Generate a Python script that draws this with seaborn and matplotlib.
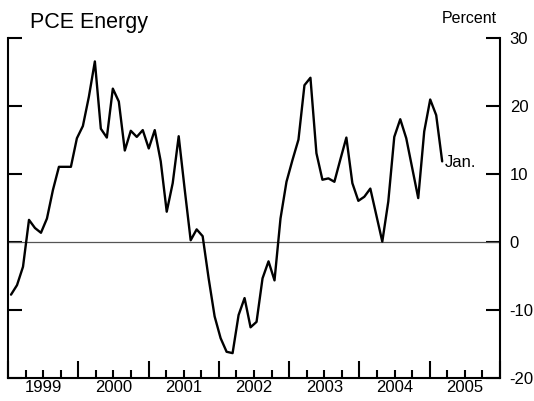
import numpy as np
import pandas as pd
import seaborn as sns
import matplotlib
matplotlib.use('Agg')
import matplotlib.pyplot as plt
from matplotlib.ticker import FixedLocator, FixedFormatter

# monthly readings, Jan 1999 .. Jan 2005 (percent)
energy = [-7.7, -6.3, -3.6, 3.3, 2.1, 1.4, 3.5, 7.7, 11.1, 11.1,
          11.1, 15.3, 17.1, 21.4, 26.6, 16.7, 15.4, 22.6, 20.7, 13.5,
          16.4, 15.5, 16.5, 13.8, 16.5, 11.9, 4.5, 8.7, 15.6, 7.8,
          0.3, 1.9, 0.9, -5.3, -10.9, -14.1, -16.1, -16.3, -10.7, -8.2,
          -12.5, -11.7, -5.3, -2.8, -5.6, 3.5, 8.9, 12.1, 15.1, 23.1,
          24.2, 13.1, 9.2, 9.4, 8.9, 12.2, 15.4, 8.7, 6.1, 6.7,
          7.9, 4.0, 0.1, 6.0, 15.5, 18.1, 15.3, 10.9, 6.5, 16.3,
          21.0, 18.7, 11.9]
years = [1999, 2000, 2001, 2002, 2003, 2004, 2005]
yticks = [-20, -10, 0, 10, 20, 30]
last_label = 'Jan.'

# position of each month on the year axis (spacing as drawn in the original)
xpos = 1999.043 + np.arange(len(energy)) * 0.0852
df = pd.DataFrame({'t': xpos, 'pct': energy})

sns.set_style('ticks')
plt.rcParams['font.family'] = ['Liberation Sans', 'DejaVu Sans']
plt.rcParams['text.color'] = 'black'
plt.rcParams['xtick.color'] = 'black'
plt.rcParams['ytick.color'] = 'black'

fig = plt.figure(figsize=(5.34, 4.01), dpi=100)
ax = fig.add_axes([8 / 534, 1 - 378.3 / 401, 492 / 534, 340 / 401])

ax.axhline(0, color='#555555', lw=0.9, zorder=1)
sns.lineplot(data=df, x='t', y='pct', color='black', lw=1.7, ax=ax, zorder=3)

ax.set_xlim(1999, 2006)
ax.set_ylim(-20, 30)
ax.set_xlabel('')
ax.set_ylabel('')

for side in ['left', 'right', 'bottom']:
    ax.spines[side].set_linewidth(1.5)
    ax.spines[side].set_color('black')
ax.spines['top'].set_visible(False)

# y ticks both sides, labels on right
ax.set_yticks(yticks)
ax.set_yticklabels([str(v) for v in yticks])
ax.tick_params(axis='y', direction='in', left=True, right=True,
               labelleft=False, labelright=True, length=10, width=1.5,
               pad=7, labelsize=12, colors='black')

# x: year boundaries long, quarters short, labels in the middle of years
bounds = list(range(years[0], years[-1] + 2))
quarters = [y + q for y in years for q in (0.25, 0.5, 0.75)]
qlabels = [str(y) if q == 0.5 else '' for y in years for q in (0.25, 0.5, 0.75)]
ax.xaxis.set_major_locator(FixedLocator(bounds))
ax.xaxis.set_major_formatter(FixedFormatter([''] * len(bounds)))
ax.xaxis.set_minor_locator(FixedLocator(quarters))
ax.xaxis.set_minor_formatter(FixedFormatter(qlabels))
ax.tick_params(axis='x', which='major', direction='in', length=12.5,
               width=1.5, bottom=True, top=False)
ax.tick_params(axis='x', which='minor', direction='in', length=6,
               width=1.5, bottom=True, top=False, pad=1, labelsize=12,
               colors='black')

ax.annotate(last_label, xy=(xpos[-1], energy[-1]), xytext=(2, -1),
            textcoords='offset points', ha='left', va='center', fontsize=12)

fig.text(30 / 534, 1 - 28 / 401, 'PCE Energy', fontsize=15.5, va='baseline')
fig.text(497 / 534, 1 - 22.7 / 401, 'Percent', fontsize=11.5,
         ha='right', va='baseline')

fig.savefig('out.png', dpi=100)
